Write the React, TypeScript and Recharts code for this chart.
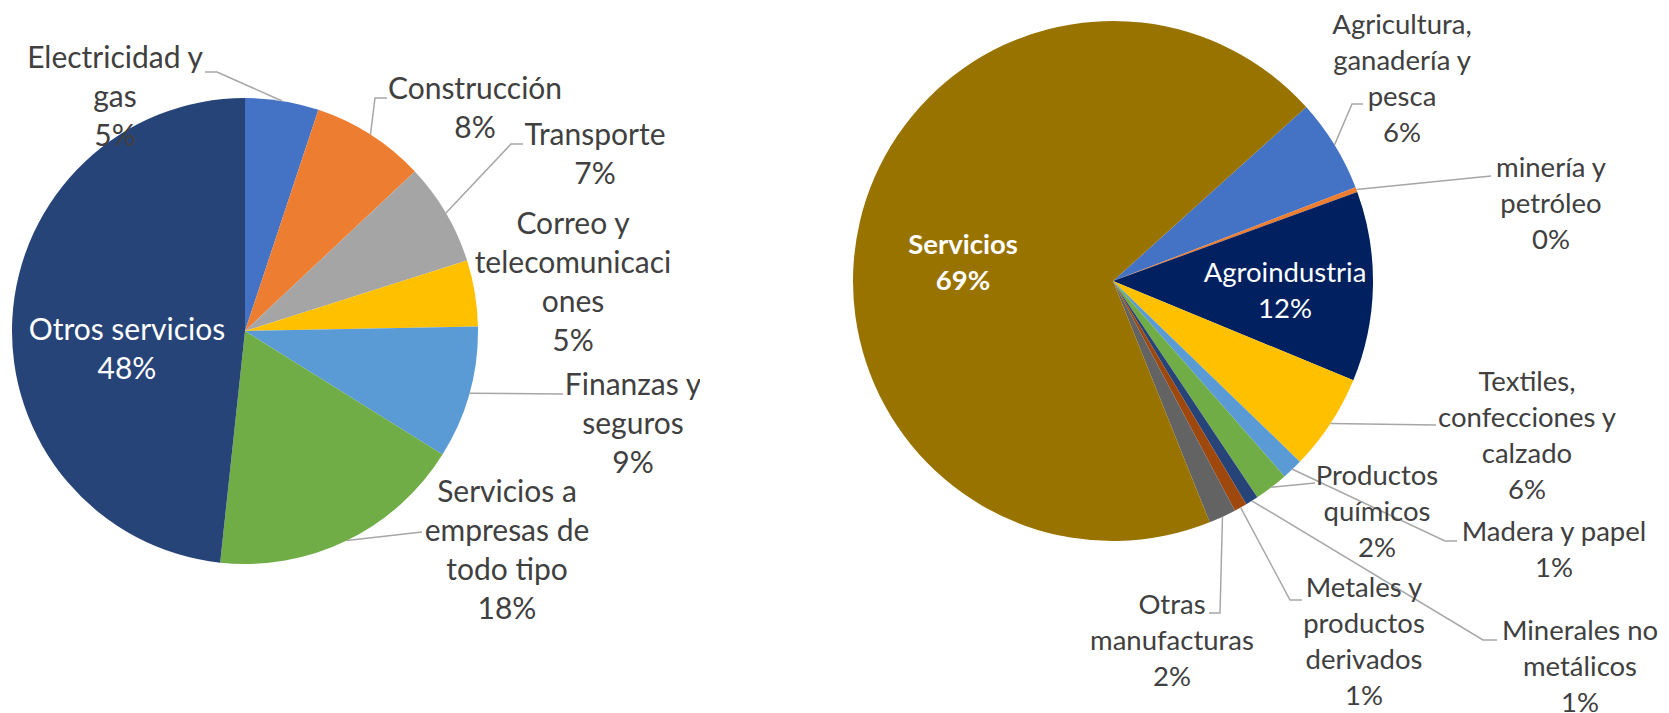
import React from 'react';
import { PieChart, Pie, Cell } from 'recharts';

// left pie: sectors of "Otros servicios"
const leftCategories = [
  'Electricidad y gas',
  'Construcción',
  'Transporte',
  'Correo y telecomunicaciones',
  'Finanzas y seguros',
  'Servicios a empresas de todo tipo',
  'Otros servicios',
];
const leftValues = [5.1, 7.9, 7.1, 4.6, 9.2, 17.8, 48.3];
const leftColors = ['#4472C4', '#ED7D31', '#A5A5A5', '#FFC000', '#5B9BD5', '#70AD47', '#264478'];

// right pie: whole economy
const rightCategories = [
  'Agricultura, ganadería y pesca',
  'minería y petróleo',
  'Agroindustria',
  'Textiles, confecciones y calzado',
  'Madera y papel',
  'Productos químicos',
  'Minerales no metálicos',
  'Metales y productos derivados',
  'Otras manufacturas',
  'Servicios',
];
const rightValues = [5.8, 0.3, 11.8, 6.0, 1.3, 2.1, 0.8, 0.8, 1.7, 69.4];
const rightColors = [
  '#4472C4', '#ED7D31', '#002060', '#FFC000', '#5B9BD5',
  '#70AD47', '#264478', '#9E480E', '#636363', '#997300',
];

const leftData = leftCategories.map((name, i) => ({ name, value: leftValues[i] }));
const rightData = rightCategories.map((name, i) => ({ name, value: rightValues[i] }));

type LabelLayout = {
  lines: string[];
  x: number;
  y: number;
  leader?: number[][];
  inside?: boolean;
  bold?: boolean;
};

// label placement (chart-local px), leader runs text -> elbow -> slice edge
const leftLabels: LabelLayout[] = [
  { lines: ['Electricidad y', 'gas'], x: 115, y: 58, leader: [[205, 72], [217, 72]] },
  { lines: ['Construcción'], x: 475, y: 89, leader: [[387, 98], [375, 98]] },
  { lines: ['Transporte'], x: 595, y: 135, leader: [[523, 144], [511, 144]] },
  { lines: ['Correo y', 'telecomunicaci', 'ones'], x: 573, y: 224 },
  { lines: ['Finanzas y', 'seguros'], x: 633, y: 385, leader: [[563, 394]] },
  { lines: ['Servicios a', 'empresas de', 'todo tipo'], x: 507, y: 492, leader: [[422, 532]] },
  { lines: ['Otros servicios'], x: 127, y: 330, inside: true },
];

const RX = 800;
const rightLabels: LabelLayout[] = [
  { lines: ['Agricultura,', 'ganadería y', 'pesca'], x: 1402 - RX, y: 25, leader: [[1363 - RX, 104], [1352 - RX, 104]] },
  { lines: ['minería y', 'petróleo'], x: 1551 - RX, y: 168, leader: [[1491 - RX, 176]] },
  { lines: ['Agroindustria'], x: 1285 - RX, y: 273, inside: true },
  { lines: ['Textiles,', 'confecciones y', 'calzado'], x: 1527 - RX, y: 382, leader: [[1436 - RX, 425]] },
  { lines: ['Madera y papel'], x: 1554 - RX, y: 532, leader: [[1457 - RX, 541], [1445 - RX, 541]] },
  { lines: ['Productos', 'químicos'], x: 1377 - RX, y: 476, leader: [[1315 - RX, 483]] },
  { lines: ['Minerales no', 'metálicos'], x: 1580 - RX, y: 631, leader: [[1497 - RX, 640], [1483 - RX, 640]] },
  { lines: ['Metales y', 'productos', 'derivados'], x: 1364 - RX, y: 588, leader: [[1302 - RX, 600], [1290 - RX, 600]] },
  { lines: ['Otras', 'manufacturas'], x: 1172 - RX, y: 605, leader: [[1209 - RX, 613], [1220 - RX, 613]] },
  { lines: ['Servicios'], x: 963 - RX, y: 245, inside: true, bold: true },
];

const FONT = 'Lato, "Noto Sans", sans-serif';
const RADIAN = Math.PI / 180;

const makeLabel = (layout: LabelLayout[], fontSize: number, lineH: number) => (props: any) => {
  const { cx, cy, midAngle, outerRadius, index, percent } = props;
  const l = layout[index];
  if (!l) return null;
  const ex = cx + outerRadius * Math.cos(-midAngle * RADIAN);
  const ey = cy + outerRadius * Math.sin(-midAngle * RADIAN);
  const lines = [...l.lines, `${Math.round(percent * 100)}%`];
  const pts = l.leader ? [...l.leader, [ex, ey]] : null;
  return (
    <g key={`lbl-${index}`}>
      {pts && (
        <polyline
          points={pts.map((p) => p.join(',')).join(' ')}
          fill="none"
          stroke="#A6A6A6"
          strokeWidth={1.5}
        />
      )}
      {lines.map((t, i) => (
        <text
          key={i}
          x={l.x}
          y={l.y + i * lineH + fontSize * 0.33}
          textAnchor="middle"
          fontFamily={FONT}
          fontSize={fontSize}
          fontWeight={l.bold ? 700 : 400}
          fill={l.inside ? '#FFFFFF' : '#404040'}
        >
          {t}
        </text>
      ))}
    </g>
  );
};

const App = () => (
  <div style={{ position: 'absolute', left: 0, top: 0, width: 1669, height: 713, background: '#fff' }}>
    <div style={{ position: 'absolute', left: 0, top: 0 }}>
      <PieChart width={700} height={713} margin={{ top: 0, right: 0, bottom: 0, left: 0 }}>
        <Pie
          data={leftData}
          dataKey="value"
          nameKey="name"
          cx={245}
          cy={331}
          outerRadius={233}
          startAngle={90}
          endAngle={-270}
          stroke="none"
          labelLine={false}
          label={makeLabel(leftLabels, 30, 39)}
          isAnimationActive={false}
        >
          {leftData.map((d, i) => (
            <Cell key={d.name} fill={leftColors[i]} />
          ))}
        </Pie>
      </PieChart>
    </div>
    <div style={{ position: 'absolute', left: RX, top: 0 }}>
      <PieChart width={869} height={713} margin={{ top: 0, right: 0, bottom: 0, left: 0 }}>
        <Pie
          data={rightData}
          dataKey="value"
          nameKey="name"
          cx={313}
          cy={281}
          outerRadius={260}
          startAngle={42}
          endAngle={-318}
          stroke="none"
          labelLine={false}
          label={makeLabel(rightLabels, 27.5, 36)}
          isAnimationActive={false}
        >
          {rightData.map((d, i) => (
            <Cell key={d.name} fill={rightColors[i]} />
          ))}
        </Pie>
      </PieChart>
    </div>
  </div>
);

export default App;
